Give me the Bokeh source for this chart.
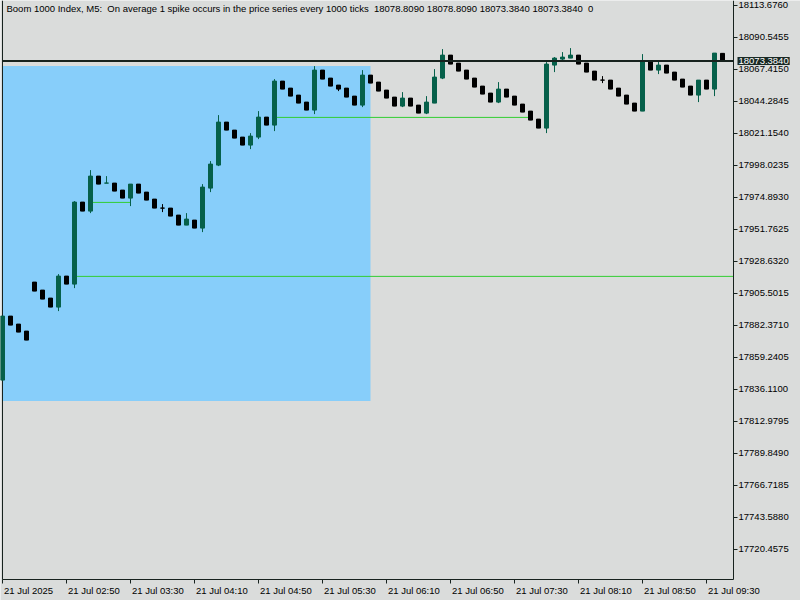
from bokeh.plotting import figure
from bokeh.models import Range1d, FixedTicker, PrintfTickFormatter, Label, ColumnDataSource
from bokeh.core.properties import value
from bokeh.embed import file_html
from bokeh.resources import INLINE

# ---- data (Boom 1000 Index, M5, 21 Jul 2025 02:10 .. 09:40) ----
bar = list(range(91))
opens = [17842.77, 17889.01, 17883.23, 17878.17, 17913.57, 17907.79, 17902.01, 17895.51, 17917.90, 17912.12,
         17971.36, 17964.86, 17990.14, 17985.09, 17985.09, 17980.03, 17974.25, 17984.36, 17978.58, 17973.53,
         17967.03, 17967.03, 17961.97, 17954.74, 17958.36, 17952.58, 17981.47, 17998.09, 18029.15, 18023.37,
         18018.32, 18012.54, 18018.32, 18032.76, 18026.98, 18058.77, 18053.71, 18048.66, 18043.60, 18037.82,
         18066.72, 18060.94, 18055.88, 18053.71, 18047.93, 18041.43, 18063.10, 18058.05, 18052.27, 18047.21,
         18040.71, 18046.49, 18041.43, 18035.65, 18042.88, 18060.94, 18077.55, 18071.77, 18066.72, 18060.94,
         18055.16, 18050.10, 18043.60, 18052.99, 18047.93, 18042.16, 18037.10, 18031.32, 18024.82, 18070.33,
         18074.66, 18075.39, 18077.55, 18071.77, 18065.99, 18059.49, 18059.49, 18053.71, 18048.66, 18042.88,
         18037.10, 18073.22, 18066.72, 18070.33, 18065.27, 18060.22, 18055.16, 18048.66, 18059.49, 18052.99,
         18078.809]
highs = [17889.01, 17889.01, 17883.23, 17878.17, 17913.57, 17907.79, 17902.01, 17919.35, 17917.90, 17972.08,
         17971.36, 17994.48, 17990.14, 17990.14, 17985.09, 17980.03, 17984.36, 17984.36, 17978.58, 17973.53,
         17969.92, 17967.03, 17961.97, 17963.41, 17958.36, 17984.36, 18000.98, 18034.21, 18029.15, 18023.37,
         18018.32, 18021.21, 18037.10, 18032.76, 18060.22, 18058.77, 18053.71, 18048.66, 18043.60, 18069.61,
         18066.72, 18060.94, 18055.88, 18053.71, 18047.93, 18066.72, 18063.10, 18058.05, 18052.27, 18047.21,
         18050.82, 18046.49, 18041.43, 18047.93, 18067.44, 18081.89, 18077.55, 18071.77, 18066.72, 18060.94,
         18055.16, 18050.10, 18058.05, 18052.99, 18047.93, 18042.16, 18037.10, 18031.32, 18072.50, 18076.11,
         18079.72, 18082.61, 18077.55, 18071.77, 18065.99, 18062.38, 18059.49, 18053.71, 18048.66, 18042.88,
         18078.28, 18073.22, 18073.22, 18070.33, 18065.27, 18060.22, 18055.16, 18059.49, 18059.49, 18079.00,
         18078.809]
lows = [17842.77, 17882.50, 17877.45, 17871.67, 17907.07, 17901.29, 17895.51, 17892.62, 17912.12, 17909.23,
        17964.86, 17963.41, 17984.36, 17985.09, 17979.31, 17974.25, 17968.47, 17977.86, 17972.80, 17967.03,
        17964.14, 17961.25, 17954.74, 17954.74, 17952.58, 17949.69, 17978.58, 17997.37, 18023.37, 18017.59,
        18012.54, 18009.65, 18016.87, 18026.98, 18022.65, 18052.99, 18047.93, 18042.88, 18037.82, 18034.93,
        18060.22, 18055.16, 18051.55, 18047.21, 18041.43, 18039.99, 18057.33, 18051.55, 18046.49, 18040.71,
        18039.99, 18040.71, 18035.65, 18034.93, 18042.88, 18060.22, 18071.05, 18065.99, 18060.22, 18054.44,
        18049.38, 18043.60, 18042.88, 18047.21, 18041.43, 18036.38, 18030.60, 18024.82, 18021.21, 18065.27,
        18073.22, 18075.39, 18071.05, 18065.27, 18059.49, 18057.33, 18052.99, 18047.93, 18042.16, 18037.10,
        18037.10, 18066.72, 18063.83, 18064.55, 18059.49, 18054.44, 18048.66, 18043.60, 18052.99, 18047.93,
        18073.384]
closes = [17889.01, 17882.50, 17877.45, 17871.67, 17907.07, 17901.29, 17895.51, 17917.90, 17912.12, 17971.36,
          17964.86, 17990.14, 17984.36, 17985.10, 17979.31, 17974.25, 17984.36, 17977.86, 17972.80, 17967.03,
          17967.02, 17961.25, 17954.74, 17959.08, 17952.58, 17982.20, 17998.81, 18029.15, 18023.37, 18017.59,
          18012.54, 18019.04, 18032.76, 18026.98, 18058.77, 18052.99, 18047.93, 18042.88, 18037.82, 18066.72,
          18060.22, 18055.16, 18052.99, 18047.21, 18041.43, 18063.10, 18057.33, 18051.55, 18046.49, 18040.71,
          18046.49, 18040.71, 18035.65, 18043.60, 18061.66, 18077.55, 18071.05, 18065.99, 18060.22, 18054.44,
          18049.38, 18043.60, 18052.99, 18047.21, 18041.43, 18036.38, 18030.60, 18024.82, 18071.05, 18075.39,
          18076.11, 18077.55, 18071.05, 18065.27, 18059.49, 18059.48, 18052.99, 18047.93, 18042.16, 18037.10,
          18073.22, 18066.72, 18070.33, 18064.55, 18059.49, 18054.44, 18048.66, 18059.49, 18052.99, 18079.00,
          18073.384]

x_tick_bars = [0, 8, 16, 24, 32, 40, 48, 56, 64, 72, 80, 88]
x_tick_labels = ["21 Jul 2025", "21 Jul 02:50", "21 Jul 03:30", "21 Jul 04:10", "21 Jul 04:50",
                 "21 Jul 05:30", "21 Jul 06:10", "21 Jul 06:50", "21 Jul 07:30", "21 Jul 08:10",
                 "21 Jul 08:50", "21 Jul 09:30"]
y_ticks = [17720.4575, 17743.5880, 17766.7185, 17789.8490, 17812.9795, 17836.1100, 17859.2405,
           17882.3710, 17905.5015, 17928.6320, 17951.7625, 17974.8930, 17998.0235, 18021.1540,
           18044.2845, 18067.4150, 18090.5455, 18113.6760]

zone_bars = [0, 46]
zone_prices = [17827.60, 18069.61]

level_start = [9, 11, 34]
level_end = [None, 16, 66]          # None: runs to the right edge of the chart
level_price = [17917.70, 17971.14, 18032.55]

bid_price = 18073.384
bid_text = "18073.3840"
title_text = ("Boom 1000 Index, M5: \u00a0On average 1 spike occurs in the price series every 1000 ticks \u00a0"
              "18078.8090 18078.8090 18073.3840 18073.3840 \u00a00")

# ---- styles / layout ----
BG = "#DADCDB"
BULL = "#06604A"
BEAR = "#000000"
DARK = "#17221E"
FONT = "Liberation Sans"
FS = "9.5px"
W, H = 800, 600
CHART_W, CHART_H = 733, 579          # the price chart; price scale and time scale lie outside it
BAR_PX = 8                           # pixels per bar
X0 = -2 / BAR_PX                     # first bar sits 2px in from the left
X_EDGE = X0 + CHART_W / BAR_PX       # price-scale position
X1 = X0 + W / BAR_PX
Y1 = 18117.0                         # top of the window
Y_AXIS = 17698.73                    # price at the time-scale line
Y0 = Y1 - (Y1 - Y_AXIS) * H / CHART_H

level_end = [X_EDGE if e is None else e for e in level_end]
colors = [BULL if c > o else BEAR for o, c in zip(opens, closes)]
src = ColumnDataSource(dict(x=bar, o=opens, h=highs, l=lows, c=closes, color=colors))

p = figure(width=W, height=H, x_range=Range1d(X0, X1), y_range=Range1d(Y0, Y1),
           output_backend="svg", toolbar_location=None, y_axis_location="right",
           min_border=0, min_border_left=0, min_border_top=0, min_border_right=0, min_border_bottom=0)
p.background_fill_color = BG
p.border_fill_color = BG
p.outline_line_color = None
p.grid.visible = False

# blue zone
p.quad(left=[zone_bars[0]], right=[zone_bars[1]], bottom=[zone_prices[0]], top=[zone_prices[1]],
       fill_color="#87CEFA", line_color=None)

# chart left border
p.segment(x0=[0], x1=[0], y0=[Y_AXIS], y1=[Y1], line_color=DARK, line_width=1)

# level lines
p.segment(x0=level_start, x1=level_end, y0=level_price, y1=level_price, line_color="#32CD32", line_width=1)

# candles
p.segment(x0="x", x1="x", y0="l", y1="h", line_color="color", line_width=1, source=src)
p.vbar(x="x", width=0.5, top="o", bottom="c", fill_color="color", line_color="color", line_width=1, source=src)

# bid line
p.segment(x0=[0], x1=[X_EDGE], y0=[bid_price], y1=[bid_price], line_color=DARK, line_width=2)

# time scale
xa = p.xaxis[0]
xa.fixed_location = Y_AXIS
xa.bounds = (0, X_EDGE)
xa.ticker = FixedTicker(ticks=x_tick_bars)
xa.major_label_overrides = {t: "" for t in x_tick_bars}
xa.major_label_text_font_size = "1px"
xa.minor_tick_line_color = None
xa.major_tick_in = 0
xa.major_tick_out = 4
xa.axis_line_color = DARK
xa.major_tick_line_color = DARK
p.text(x=x_tick_bars, y=[Y_AXIS] * len(x_tick_bars), text=x_tick_labels, x_offset=1.5, y_offset=5,
       text_font=value(FONT), text_font_size=value(FS), text_color="#000000",
       text_align="left", text_baseline="top")

# price scale
ya = p.yaxis[0]
ya.fixed_location = X_EDGE
ya.bounds = (Y_AXIS, Y1)
ya.ticker = FixedTicker(ticks=y_ticks)
ya.formatter = PrintfTickFormatter(format="%.4f")
ya.minor_tick_line_color = None
ya.major_tick_in = 0
ya.major_tick_out = 4
ya.axis_line_color = DARK
ya.major_tick_line_color = DARK
ya.major_label_text_font = FONT
ya.major_label_text_font_size = FS
ya.major_label_text_color = "#000000"
ya.major_label_standoff = 1

# title
p.add_layout(Label(x=6, y=H - 2, x_units="screen", y_units="screen", text=title_text,
                   text_font=FONT, text_font_size=FS, text_color="#000000",
                   text_align="left", text_baseline="top"))

# bid price tag on the price scale
p.add_layout(Label(x=CHART_W + 4, y=(bid_price - Y0) / (Y1 - Y0) * H, x_units="screen", y_units="screen",
                   text=bid_text, text_font=FONT, text_font_size=FS, text_color="#FFFFFF",
                   text_align="left", text_baseline="middle",
                   background_fill_color="#1A2A25", padding=1))

open("out.html", "w").write(file_html(p, INLINE))
